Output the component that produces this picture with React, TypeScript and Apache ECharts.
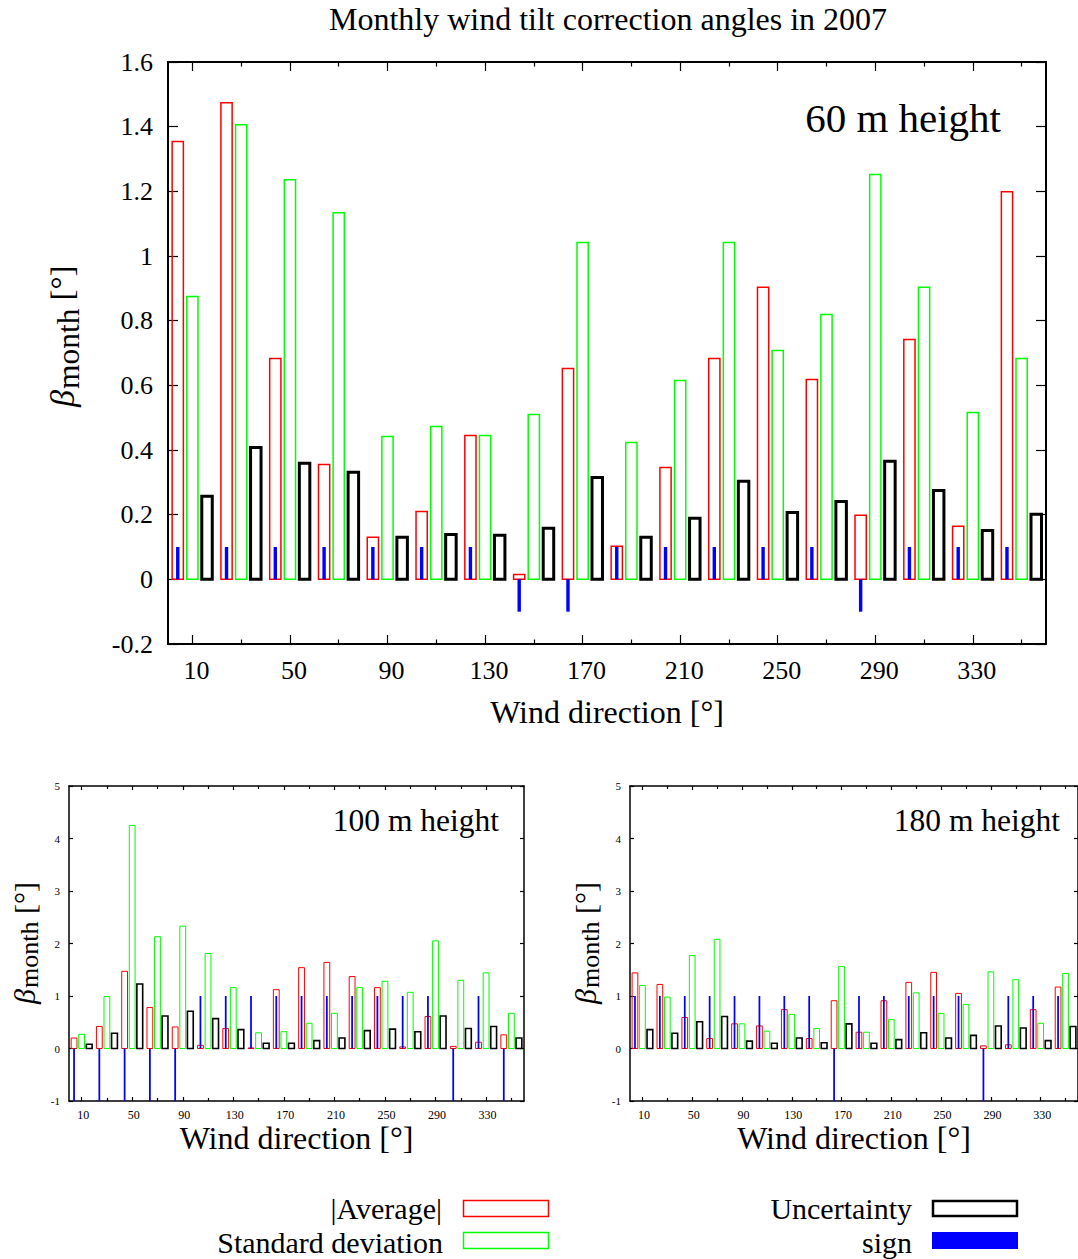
import React, { useEffect, useRef } from 'react';
import * as echarts from 'echarts';

// ---------------- data ----------------
const directions = [10, 30, 50, 70, 90, 110, 130, 150, 170, 190, 210, 230, 250, 270, 290, 310, 330, 350];
const majorTicks = [10, 50, 90, 130, 170, 210, 250, 290, 330];
const minorTicks = [30, 70, 110, 150, 190, 230, 270, 310, 350];

// 60 m
const avg60 = [1.354, 1.474, 0.683, 0.355, 0.130, 0.210, 0.445, 0.015, 0.652, 0.102, 0.346, 0.683, 0.903, 0.618, 0.198, 0.742, 0.164, 1.199];
const std60 = [0.875, 1.406, 1.236, 1.134, 0.442, 0.473, 0.445, 0.510, 1.042, 0.423, 0.615, 1.042, 0.708, 0.819, 1.252, 0.903, 0.516, 0.683];
const unc60 = [0.257, 0.408, 0.359, 0.331, 0.130, 0.139, 0.136, 0.158, 0.315, 0.130, 0.189, 0.303, 0.207, 0.241, 0.365, 0.275, 0.151, 0.201];
const sign60 = [0.1, 0.1, 0.1, 0.1, 0.1, 0.1, 0.1, -0.1, -0.1, 0.1, 0.1, 0.1, 0.1, 0.1, -0.1, 0.1, 0.1, 0.1];

// 100 m
const avg100 = [0.20, 0.42, 1.47, 0.78, 0.41, 0.06, 0.38, 0.01, 1.12, 1.54, 1.64, 1.37, 1.16, 0.03, 0.61, 0.04, 0.12, 0.26];
const std100 = [0.27, 0.99, 4.25, 2.13, 2.33, 1.81, 1.16, 0.30, 0.32, 0.48, 0.67, 1.16, 1.28, 1.07, 2.05, 1.30, 1.44, 0.67];
const unc100 = [0.08, 0.29, 1.23, 0.62, 0.71, 0.57, 0.36, 0.10, 0.10, 0.15, 0.20, 0.34, 0.37, 0.32, 0.62, 0.38, 0.42, 0.20];
const sign100 = [-1, -1, -1, -1, -1, 1, 1, 1, 1, 1, 1, 1, 1, 1, 1, -1, 1, -1];

// 180 m
const avg180 = [1.44, 1.22, 0.59, 0.19, 0.47, 0.43, 0.74, 0.19, 0.91, 0.31, 0.91, 1.26, 1.45, 1.05, 0.05, 0.07, 0.74, 1.17];
const std180 = [1.20, 0.98, 1.77, 2.08, 0.47, 0.33, 0.65, 0.38, 1.56, 0.31, 0.55, 1.06, 0.67, 0.84, 1.46, 1.31, 0.48, 1.43];
const unc180 = [0.36, 0.29, 0.51, 0.61, 0.14, 0.10, 0.20, 0.11, 0.47, 0.10, 0.17, 0.30, 0.20, 0.25, 0.43, 0.39, 0.15, 0.42];
const sign180 = [1, 1, 1, 1, 1, 1, 1, 1, -1, 1, 1, 1, 1, 1, -1, 1, 1, 1];

const FAM = '"Liberation Serif", "Times New Roman", serif';

let measureCtx: CanvasRenderingContext2D | null = null;
function tw(text: string, font: string): number {
  if (!measureCtx) measureCtx = document.createElement('canvas').getContext('2d');
  if (!measureCtx) return text.length * 10;
  measureCtx.font = font;
  return measureCtx.measureText(text).width;
}

function barRender(offset: number, width: number, style: any) {
  return (params: any, api: any) => {
    const x = api.value(0) + offset;
    const y = api.value(1);
    const p0 = api.coord([x - width / 2, y]);
    const p1 = api.coord([x + width / 2, 0]);
    return {
      type: 'rect',
      shape: {
        x: p0[0],
        y: Math.min(p0[1], p1[1]),
        width: p1[0] - p0[0],
        height: Math.abs(p1[1] - p0[1]),
      },
      style,
    };
  };
}

interface PanelCfg {
  left: number; top: number; width: number; height: number;
  yMin: number; yMax: number; yInt: number;
  tickFont: number; xTickFont: number; xLabelMargin: number; yLabelMargin: number; xLabelShift: number;
  majorLen: number; minorLen: number; yTickLen: number; frameW: number;
  nameGap: number; nameFont: number;
  thin: number; thick: number;
  avg: number[]; std: number[]; unc: number[]; sign: number[];
}

function App() {
  const ref = useRef<HTMLDivElement>(null);
  useEffect(() => {
    if (!ref.current) return;
    const chart = echarts.init(ref.current, undefined, { renderer: 'svg' });

    const panels: PanelCfg[] = [
      {
        left: 168, top: 62, width: 878, height: 582, yMin: -0.2, yMax: 1.6, yInt: 0.2,
        tickFont: 26, xTickFont: 26, xLabelMargin: 13, yLabelMargin: 15, xLabelShift: 8,
        majorLen: 9, minorLen: 4.5, yTickLen: 10, frameW: 2,
        nameGap: 52, nameFont: 32, thin: 1.5, thick: 3,
        avg: avg60, std: std60, unc: unc60, sign: sign60,
      },
      {
        left: 69, top: 786, width: 455, height: 315, yMin: -1, yMax: 5, yInt: 1,
        tickFont: 11, xTickFont: 12, xLabelMargin: 8, yLabelMargin: 9, xLabelShift: 3,
        majorLen: 4, minorLen: 3, yTickLen: 4, frameW: 1.5,
        nameGap: 21, nameFont: 32, thin: 1, thick: 1.6,
        avg: avg100, std: std100, unc: unc100, sign: sign100,
      },
      {
        left: 630, top: 786, width: 455, height: 315, yMin: -1, yMax: 5, yInt: 1,
        tickFont: 11, xTickFont: 12, xLabelMargin: 8, yLabelMargin: 9, xLabelShift: 3,
        majorLen: 4, minorLen: 3, yTickLen: 4, frameW: 1.5,
        nameGap: 21, nameFont: 32, thin: 1, thick: 1.6,
        avg: avg180, std: std180, unc: unc180, sign: sign180,
      },
    ];

    const grids: any[] = [];
    const xAxes: any[] = [];
    const yAxes: any[] = [];
    const series: any[] = [];

    panels.forEach((p, g) => {
      grids.push({ left: p.left, top: p.top, width: p.width, height: p.height, containLabel: false });
      const line = { show: true, onZero: false, lineStyle: { color: '#000', width: p.frameW } };
      const noLine = { show: false, onZero: false };
      const tickStyle = { color: '#000', width: 1.2 };
      const xBase = { gridIndex: g, type: 'value', min: 0, max: 360, splitLine: { show: false } };
      xAxes.push({
        ...xBase, position: 'bottom', axisLine: line,
        axisTick: { show: true, inside: true, length: p.majorLen, customValues: majorTicks, lineStyle: tickStyle },
        axisLabel: {
          show: true, customValues: majorTicks, fontSize: p.xTickFont, fontFamily: FAM, color: '#000',
          margin: p.xLabelMargin, padding: [0, 0, 0, p.xLabelShift],
        },
        name: 'Wind direction [°]', nameLocation: 'middle', nameGap: p.nameGap,
        nameTextStyle: { fontSize: p.nameFont, fontFamily: FAM, color: '#000', verticalAlign: 'top' },
      });
      xAxes.push({
        ...xBase, position: 'bottom', axisLine: noLine,
        axisTick: { show: true, inside: true, length: p.minorLen, customValues: minorTicks, lineStyle: tickStyle },
        axisLabel: { show: false },
      });
      xAxes.push({
        ...xBase, position: 'top', axisLine: line,
        axisTick: { show: true, inside: true, length: p.majorLen, customValues: majorTicks, lineStyle: tickStyle },
        axisLabel: { show: false },
      });
      xAxes.push({
        ...xBase, position: 'top', axisLine: noLine,
        axisTick: { show: true, inside: true, length: p.minorLen, customValues: minorTicks, lineStyle: tickStyle },
        axisLabel: { show: false },
      });
      const yBase = { gridIndex: g, type: 'value', min: p.yMin, max: p.yMax, interval: p.yInt, splitLine: { show: false } };
      yAxes.push({
        ...yBase, position: 'left', axisLine: line,
        axisTick: { show: true, inside: true, length: p.yTickLen, lineStyle: tickStyle },
        axisLabel: { show: true, fontSize: p.tickFont, fontFamily: FAM, color: '#000', margin: p.yLabelMargin },
      });
      yAxes.push({
        ...yBase, position: 'right', axisLine: line,
        axisTick: { show: true, inside: true, length: p.yTickLen, lineStyle: tickStyle },
        axisLabel: { show: false },
      });

      const xi = g * 4;
      const yi = g * 2;
      const mk = (vals: number[], offset: number, width: number, style: any) => ({
        type: 'custom', xAxisIndex: xi, yAxisIndex: yi, silent: true, clip: false,
        data: directions.map((d, i) => [d, vals[i]]),
        encode: { x: 0, y: 1 },
        renderItem: barRender(offset, width, style),
      });
      series.push(mk(p.avg, -6, 4.6, { fill: 'none', stroke: '#ff0000', lineWidth: p.thin }));
      series.push(mk(p.std, 0, 4.6, { fill: 'none', stroke: '#00ff00', lineWidth: p.thin }));
      series.push(mk(p.unc, 6, g === 0 ? 4.3 : 4.6, { fill: 'none', stroke: '#000000', lineWidth: p.thick }));
      series.push(mk(p.sign, -6, 1.4, { fill: '#0000ff', stroke: 'none', lineWidth: 0 }));
    });

    const txt = (x: number, y: number, text: string, size: number, align: string, lineHeight?: number) => ({
      type: 'text', x, y, silent: true,
      style: {
        text, fontSize: size, fontFamily: FAM, fill: '#000',
        align, textAlign: align, verticalAlign: 'middle', textVerticalAlign: 'middle',
        ...(lineHeight ? { lineHeight } : {}),
      },
    });

    const yLabel = (cx: number, yBottom: number, bSize: number, sSize: number, nSize: number, shift: number) => {
      const wB = tw('β', `italic ${bSize}px ${FAM}`);
      const wS = tw('month', `${sSize}px ${FAM}`);
      const sp = tw(' ', `${nSize}px ${FAM}`);
      const rot = Math.PI / 2;
      const st = (text: string, size: number, italic: boolean) => ({
        text, fontSize: size, fontStyle: italic ? 'italic' : 'normal', fontFamily: FAM, fill: '#000',
        align: 'left', textAlign: 'left', verticalAlign: 'middle', textVerticalAlign: 'middle',
      });
      return [
        { type: 'text', x: cx, y: yBottom, rotation: rot, silent: true, style: st('β', bSize, true) },
        { type: 'text', x: cx + shift, y: yBottom - wB - 1, rotation: rot, silent: true, style: st('month', sSize, false) },
        { type: 'text', x: cx, y: yBottom - wB - 1 - wS - sp, rotation: rot, silent: true, style: st('[°]', nSize, false) },
      ];
    };

    const graphic: any[] = [
      txt(608, 19, 'Monthly wind tilt correction angles in 2007', 32, 'center'),
      txt(1001, 118, '60 m height', 41, 'right'),
      txt(499, 820, '100 m height', 31.5, 'right'),
      txt(1060, 820, '180 m height', 31.5, 'right'),
      ...yLabel(62, 407, 34, 31.5, 32.5, 6),
      ...yLabel(24, 1004, 30, 26, 30, 5),
      ...yLabel(585, 1004, 30, 26, 30, 5),
      // legend
      txt(442, 1208, '|Average|', 30, 'right', 28),
      { type: 'rect', silent: true, shape: { x: 463.5, y: 1200.5, width: 85, height: 16 }, style: { fill: 'none', stroke: '#ff0000', lineWidth: 1.5 } },
      txt(443, 1242, 'Standard deviation', 30, 'right', 28),
      { type: 'rect', silent: true, shape: { x: 463.5, y: 1232.5, width: 85, height: 16 }, style: { fill: 'none', stroke: '#00ff00', lineWidth: 1.5 } },
      txt(912, 1208, 'Uncertainty', 30, 'right', 28),
      { type: 'rect', silent: true, shape: { x: 933, y: 1201, width: 84, height: 15 }, style: { fill: 'none', stroke: '#000000', lineWidth: 2.5 } },
      txt(912, 1242, 'sign', 30, 'right', 28),
      { type: 'rect', silent: true, shape: { x: 932, y: 1232, width: 86, height: 17 }, style: { fill: '#0000ff' } },
    ];

    chart.setOption({
      animation: false,
      backgroundColor: '#ffffff',
      grid: grids,
      xAxis: xAxes,
      yAxis: yAxes,
      series,
      graphic,
    });
    return () => chart.dispose();
  }, []);
  return (
    <div
      ref={ref}
      style={{ position: 'absolute', left: 0, top: 0, width: 1078, height: 1259, background: '#fff' }}
    />
  );
}

export default App;
